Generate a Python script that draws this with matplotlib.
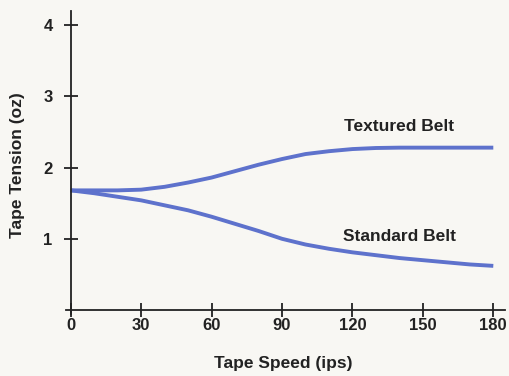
import matplotlib.pyplot as plt

# Leituras do gráfico (velocidade em ips, tensão em oz)
speed = [0, 10, 20, 30, 40, 50, 60, 70, 80, 90, 100, 110, 120, 130, 140, 150, 160, 170, 180]
textured = [1.68, 1.68, 1.68, 1.69, 1.73, 1.79, 1.86, 1.95, 2.04, 2.12, 2.19, 2.23, 2.26,
            2.275, 2.28, 2.28, 2.28, 2.28, 2.28]
standard = [1.68, 1.64, 1.59, 1.54, 1.47, 1.40, 1.31, 1.21, 1.11, 1.00, 0.92, 0.86, 0.81,
            0.77, 0.73, 0.70, 0.67, 0.64, 0.62]
xticks = [0, 30, 60, 90, 120, 150, 180]
yticks = [1, 2, 3, 4]

bg = '#f8f7f3'
blue = '#5e72cc'
ink = '#222222'
plt.rcParams['font.family'] = ['Liberation Sans', 'DejaVu Sans']

fig = plt.figure(figsize=(5.09, 3.76), dpi=100, facecolor=bg)
ax = fig.add_axes([0.1297, 0.166, 0.8625, 0.805], facecolor=bg)

ax.plot(speed, textured, color=blue, lw=2.8, solid_capstyle='butt')
ax.plot(speed, standard, color=blue, lw=2.8, solid_capstyle='butt')

ax.text(140, 2.57, 'Textured Belt', ha='center', va='center', fontsize=12.5,
        fontweight='bold', color=ink)
ax.text(140, 1.03, 'Standard Belt', ha='center', va='center', fontsize=12.5,
        fontweight='bold', color=ink)

ax.set_xlim(-2, 185)
ax.set_ylim(-0.05, 4.2)
ax.spines['left'].set_position(('data', 0))
ax.spines['bottom'].set_position(('data', 0))
ax.spines['right'].set_visible(False)
ax.spines['top'].set_visible(False)
for s in ('left', 'bottom'):
    ax.spines[s].set_linewidth(1.3)
    ax.spines[s].set_color(ink)

ax.set_xticks(xticks)
ax.set_yticks(yticks)
ax.tick_params(direction='inout', length=10, width=1.3, color=ink, labelcolor=ink,
               labelsize=12)
ax.tick_params(axis='y', pad=8)
ax.tick_params(axis='x', pad=1)
for lab in ax.get_xticklabels() + ax.get_yticklabels():
    lab.set_fontweight('bold')

fig.text(0.557, 0.032, 'Tape Speed (ips)', ha='center', va='center', fontsize=12.5,
         fontweight='bold', color=ink)
fig.text(0.035, 0.56, 'Tape Tension (oz)', ha='center', va='center', rotation=90,
         fontsize=12.5, fontweight='bold', color=ink)

fig.savefig('out.png', dpi=100, facecolor=bg)
